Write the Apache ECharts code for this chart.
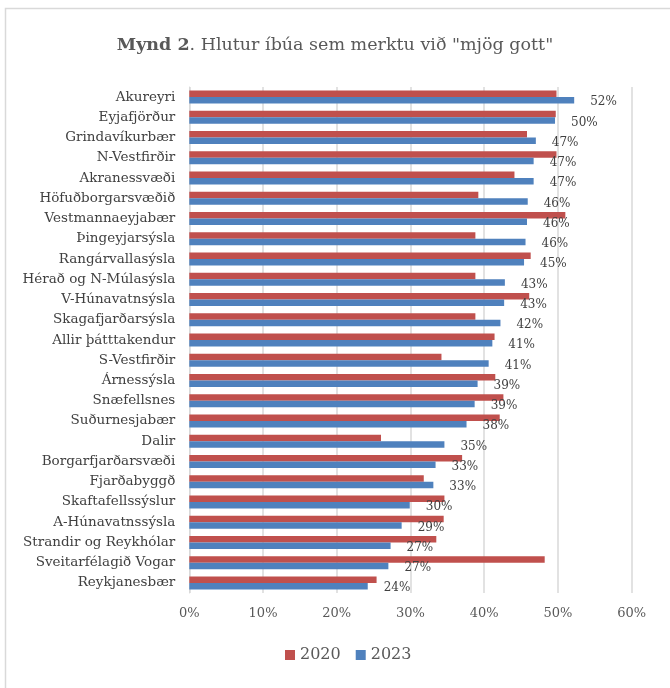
<!DOCTYPE html>
<html>
<head>
<meta charset="utf-8">
<script src="https://cdn.jsdelivr.net/npm/echarts@6/dist/echarts.min.js"></script>
<style>html,body{margin:0;padding:0;background:#fff;}#c{width:670px;height:688px;}</style>
</head>
<body>
<div id="c"></div>
<script>
const categories = ["Akureyri","Eyjafjörður","Grindavíkurbær","N-Vestfirðir","Akranessvæði","Höfuðborgarsvæðið","Vestmannaeyjabær","Þingeyjarsýsla","Rangárvallasýsla","Hérað og N-Múlasýsla","V-Húnavatnsýsla","Skagafjarðarsýsla","Allir þátttakendur","S-Vestfirðir","Árnessýsla","Snæfellsnes","Suðurnesjabær","Dalir","Borgarfjarðarsvæði","Fjarðabyggð","Skaftafellssýslur","A-Húnavatnssýsla","Strandir og Reykhólar","Sveitarfélagið Vogar","Reykjanesbær"];
const values2020 = [49.8,49.7,45.8,49.8,44.1,39.2,51.0,38.8,46.3,38.8,46.1,38.8,41.4,34.2,41.5,42.6,42.1,26.0,37.0,31.8,34.6,34.5,33.5,48.2,25.4];
const values2023 = [52.2,49.6,47.0,46.7,46.7,45.9,45.8,45.6,45.4,42.8,42.7,42.2,41.1,40.6,39.1,38.7,37.6,34.6,33.4,33.1,29.9,28.8,27.3,27.0,24.2];
const seriesNames = ["2020","2023"];
const xTicks = {min:0, max:60, interval:10};

const FONT = "DejaVu Serif";
const chart = echarts.init(document.getElementById('c'), null, {renderer:'canvas'});
chart.setOption({
  animation:false,
  backgroundColor:'#ffffff',
  graphic:[{type:'rect', shape:{x:5.5,y:8.5,width:700,height:700}, style:{fill:'none',stroke:'#d9d9d9',lineWidth:1.5}, silent:true}],
  title:{
    text:'{b|Mynd 2}{n|. Hlutur íbúa sem merktu við "mjög gott"}',
    left:'center', top:31,
    textStyle:{fontWeight:'normal', rich:{
      b:{fontFamily:FONT,fontSize:17.5,fontWeight:'bold',color:'#595959'},
      n:{fontFamily:FONT,fontSize:17.5,fontWeight:'normal',color:'#595959'}
    }}
  },
  legend:{
    data:seriesNames, bottom:20, left:280,
    itemWidth:10, itemHeight:10, itemGap:15, icon:'rect',
    textStyle:{fontFamily:FONT,fontSize:16,color:'#595959'}
  },
  grid:{left:189.3, right:38.3, top:87, bottom:95, containLabel:false},
  xAxis:{
    type:'value', min:xTicks.min, max:xTicks.max, interval:xTicks.interval,
    axisLine:{show:false}, axisTick:{show:false},
    splitLine:{lineStyle:{color:'#d9d9d9',width:1.5}},
    axisLabel:{formatter:'{value}%', margin:14, fontFamily:FONT, fontSize:13, color:'#595959'}
  },
  yAxis:{
    type:'category', data:categories, inverse:true,
    axisTick:{show:false},
    axisLine:{show:true, lineStyle:{color:'#d9d9d9',width:1}},
    axisLabel:{margin:14, fontFamily:FONT, fontSize:13.5, color:'#404040', interval:0}
  },
  series:[
    {name:seriesNames[0], type:'bar', data:values2020, barWidth:6.5, barGap:'0%',
     itemStyle:{color:'#C0504D'}},
    {name:seriesNames[1], type:'bar', data:values2023, barWidth:6.5, barGap:'0%',
     itemStyle:{color:'#4F81BD'},
     label:{show:true, position:'right', distance:16, offset:[0,2],
       formatter:p=>Math.round(p.value)+'%', fontFamily:FONT, fontSize:12, color:'#404040'}}
  ]
});
</script>
</body>
</html>
